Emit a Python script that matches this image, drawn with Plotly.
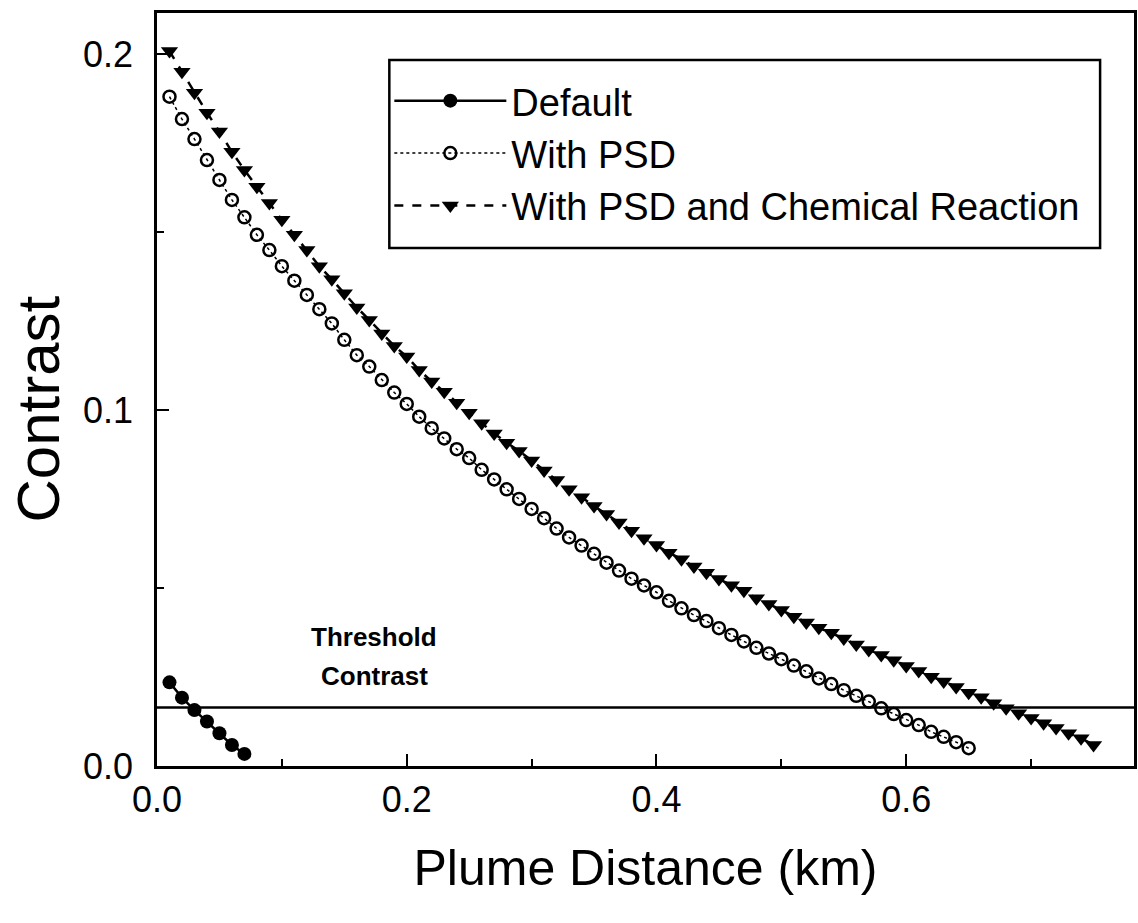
import plotly.graph_objects as go

# ---------------- data ----------------
x_default = [0.01, 0.02, 0.03, 0.04, 0.05, 0.06, 0.07]
c_default = [0.0235, 0.0192, 0.0157, 0.0125, 0.0092, 0.0059, 0.0034]

x_psd = [0.01, 0.02, 0.03, 0.04, 0.05, 0.06, 0.07, 0.08, 0.09, 0.10,
         0.11, 0.12, 0.13, 0.14, 0.15, 0.16, 0.17, 0.18, 0.19, 0.20,
         0.21, 0.22, 0.23, 0.24, 0.25, 0.26, 0.27, 0.28, 0.29, 0.30,
         0.31, 0.32, 0.33, 0.34, 0.35, 0.36, 0.37, 0.38, 0.39, 0.40,
         0.41, 0.42, 0.43, 0.44, 0.45, 0.46, 0.47, 0.48, 0.49, 0.50,
         0.51, 0.52, 0.53, 0.54, 0.55, 0.56, 0.57, 0.58, 0.59, 0.60,
         0.61, 0.62, 0.63, 0.64, 0.65]
c_psd = [0.1880, 0.1817, 0.1761, 0.1702, 0.1646, 0.1590, 0.1541, 0.1492, 0.1449, 0.1404,
         0.1363, 0.1323, 0.1283, 0.1243, 0.1197, 0.1154, 0.1122, 0.1084, 0.1049, 0.1017,
         0.0981, 0.0949, 0.0920, 0.0890, 0.0865, 0.0832, 0.0805, 0.0777, 0.0750, 0.0722,
         0.0696, 0.0667, 0.0642, 0.0619, 0.0596, 0.0571, 0.0549, 0.0526, 0.0507, 0.0488,
         0.0464, 0.0443, 0.0424, 0.0407, 0.0387, 0.0368, 0.0350, 0.0332, 0.0316, 0.0300,
         0.0282, 0.0266, 0.0246, 0.0230, 0.0213, 0.0197, 0.0181, 0.0162, 0.0146, 0.0129,
         0.0115, 0.0096, 0.0082, 0.0067, 0.0050]

x_rxn = [0.01, 0.02, 0.03, 0.04, 0.05, 0.06, 0.07, 0.08, 0.09, 0.10,
         0.11, 0.12, 0.13, 0.14, 0.15, 0.16, 0.17, 0.18, 0.19, 0.20,
         0.21, 0.22, 0.23, 0.24, 0.25, 0.26, 0.27, 0.28, 0.29, 0.30,
         0.31, 0.32, 0.33, 0.34, 0.35, 0.36, 0.37, 0.38, 0.39, 0.40,
         0.41, 0.42, 0.43, 0.44, 0.45, 0.46, 0.47, 0.48, 0.49, 0.50,
         0.51, 0.52, 0.53, 0.54, 0.55, 0.56, 0.57, 0.58, 0.59, 0.60,
         0.61, 0.62, 0.63, 0.64, 0.65, 0.66, 0.67, 0.68, 0.69, 0.70,
         0.71, 0.72, 0.73, 0.74, 0.75]
c_rxn = [0.2008, 0.1950, 0.1891, 0.1835, 0.1782, 0.1725, 0.1674, 0.1627, 0.1581, 0.1534,
         0.1492, 0.1449, 0.1404, 0.1367, 0.1328, 0.1288, 0.1253, 0.1215, 0.1180, 0.1150,
         0.1112, 0.1080, 0.1051, 0.1020, 0.0992, 0.0963, 0.0934, 0.0908, 0.0885, 0.0858,
         0.0830, 0.0803, 0.0777, 0.0755, 0.0730, 0.0708, 0.0684, 0.0661, 0.0640, 0.0621,
         0.0599, 0.0581, 0.0560, 0.0543, 0.0525, 0.0508, 0.0492, 0.0471, 0.0455, 0.0438,
         0.0419, 0.0403, 0.0388, 0.0374, 0.0358, 0.0341, 0.0326, 0.0312, 0.0297, 0.0281,
         0.0267, 0.0251, 0.0237, 0.0222, 0.0206, 0.0193, 0.0176, 0.0162, 0.0148, 0.0135,
         0.0120, 0.0107, 0.0092, 0.0078, 0.0059]

threshold = 0.0164

series_names = ["Default", "With PSD", "With PSD and Chemical Reaction"]
x_ticks = [0.0, 0.2, 0.4, 0.6]
x_tick_text = ["0.0", "0.2", "0.4", "0.6"]
y_ticks = [0.0, 0.1, 0.2]
y_tick_text = ["0.0", "0.1", "0.2"]

FONT = "Liberation Sans, Arial, Helvetica, sans-serif"

fig = go.Figure()

fig.add_trace(go.Scatter(
    x=x_default, y=c_default, name=series_names[0], mode="lines+markers",
    line=dict(color="black", width=2.5),
    marker=dict(symbol="circle", size=14, color="black"),
))
fig.add_trace(go.Scatter(
    x=x_psd, y=c_psd, name=series_names[1], mode="lines+markers",
    line=dict(color="black", width=1.5, dash="dot"),
    marker=dict(symbol="circle-open", size=12, color="black", line=dict(width=2.5, color="black")),
))
fig.add_trace(go.Scatter(
    x=x_rxn, y=c_rxn, name=series_names[2], mode="lines+markers",
    line=dict(color="black", width=2.5, dash="dash"),
    marker=dict(symbol="triangle-down", size=15, color="black"),
))

# threshold line
fig.add_shape(type="line", xref="paper", yref="y", x0=0, x1=1, y0=threshold, y1=threshold,
              line=dict(color="black", width=2.5))
fig.add_annotation(x=0.174, y=0.0362, xref="x", yref="y", text="<b>Threshold</b>",
                   showarrow=False, font=dict(family=FONT, size=26, color="black"))
fig.add_annotation(x=0.174, y=0.0253, xref="x", yref="y", text="<b>Contrast</b>",
                   showarrow=False, font=dict(family=FONT, size=26, color="black"))

# y-axis title (placed as rotated text to match the reference position)
fig.add_annotation(x=-0.1214, y=0.474, xref="paper", yref="paper", text="Contrast",
                   textangle=-90, showarrow=False, xanchor="center", yanchor="middle",
                   font=dict(family=FONT, size=60, color="black"))

# legend frame
fig.add_shape(type="rect", xref="paper", yref="paper", x0=0.2378, x1=0.9653, y0=0.6879, y1=0.9376,
              line=dict(color="black", width=2.5), fillcolor="white", layer="below")

fig.update_layout(
    width=1138, height=923,
    margin=dict(l=157, r=1, t=13, b=157),
    paper_bgcolor="white", plot_bgcolor="white",
    font=dict(family=FONT, color="black"),
    showlegend=True,
    legend=dict(
        x=0.2378, y=0.925, xanchor="left", yanchor="top",
        bgcolor="rgba(0,0,0,0)", borderwidth=0,
        font=dict(family=FONT, size=38, color="black"),
        itemwidth=112,
    ),
    xaxis=dict(
        range=[0, 0.7824], showgrid=False, zeroline=False,
        showline=True, linecolor="black", linewidth=2.5, mirror=True,
        ticks="inside", ticklen=12, tickwidth=2, tickcolor="black",
        tickvals=x_ticks, ticktext=x_tick_text,
        tickfont=dict(family=FONT, size=36, color="black"),
        minor=dict(tickvals=[0.1, 0.3, 0.5, 0.7], ticks="inside", ticklen=7, tickwidth=2, tickcolor="black"),
        title=dict(text="Plume Distance (km)", font=dict(family=FONT, size=50, color="black"), standoff=32),
    ),
    yaxis=dict(
        range=[0, 0.2115], showgrid=False, zeroline=False,
        showline=True, linecolor="black", linewidth=2.5, mirror=True,
        ticks="inside", ticklen=12, tickwidth=2, tickcolor="black",
        tickvals=y_ticks, ticktext=y_tick_text,
        tickfont=dict(family=FONT, size=36, color="black"),
        ticklabelstandoff=14,
        minor=dict(tickvals=[0.05, 0.15], ticks="inside", ticklen=7, tickwidth=2, tickcolor="black"),
    ),
)

fig.write_html("out.html")
